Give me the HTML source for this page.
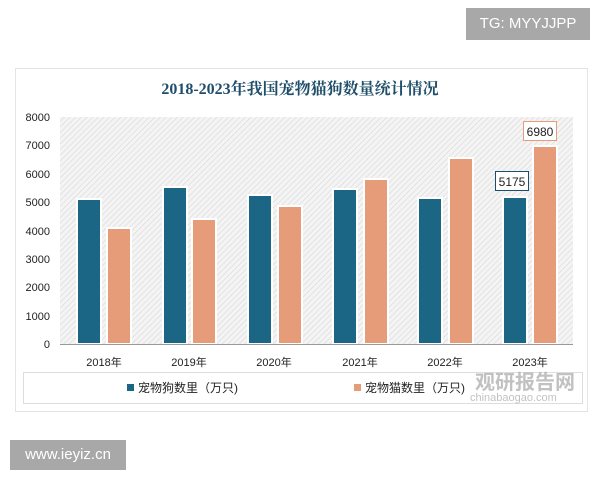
<!DOCTYPE html>
<html><head><meta charset="utf-8"><style>
body{margin:0;width:600px;height:480px;background:#fff;overflow:hidden;position:relative;font-family:"Liberation Sans","Noto Sans CJK SC",sans-serif}
</style></head><body>
<div style="position:absolute;left:466px;top:8px;width:124px;height:32px;background:#a8a8a8;color:#fff;font-size:15px;line-height:32px;text-align:center">TG: MYYJJPP</div>
<div style="position:absolute;left:10px;top:440px;width:116px;height:30px;background:#a8a8a8;color:#fff;font-size:15px;line-height:30px;text-align:center">www.ieyiz.cn</div>
<svg width="600" height="480" style="position:absolute;left:0;top:0">
<defs><pattern id="h" width="4" height="4" patternUnits="userSpaceOnUse" patternTransform="rotate(45)"><rect width="4" height="4" fill="#f4f4f4"/><line x1="0" y1="0" x2="0" y2="4" stroke="#d8d8d8" stroke-width="1.2"/></pattern></defs>
<rect x="15.5" y="68.5" width="572" height="343" fill="#fff" stroke="#e4e4e4"/>
<text x="300" y="94" text-anchor="middle" font-family="Liberation Serif,Noto Serif CJK SC,serif" font-weight="bold" font-size="16" fill="#1f4e6b">2018-2023年我国宠物猫狗数量统计情况</text>
<rect x="60" y="117" width="513" height="227" fill="url(#h)"/>
<g font-size="11" fill="#222" text-anchor="end">
<text x="50" y="121">8000</text><text x="50" y="149">7000</text><text x="50" y="178">6000</text><text x="50" y="206">5000</text><text x="50" y="235">4000</text><text x="50" y="263">3000</text><text x="50" y="291">2000</text><text x="50" y="320">1000</text><text x="50" y="348">0</text>
</g>
<g fill="#1b6585" stroke="#fff" stroke-width="2">
<rect x="77" y="199" width="24" height="145"/><rect x="163" y="187" width="24" height="157"/><rect x="248" y="195" width="24" height="149"/><rect x="333" y="189" width="24" height="155"/><rect x="418" y="198" width="24" height="146"/><rect x="503" y="197" width="24" height="147"/>
</g>
<g fill="#e69b79" stroke="#fff" stroke-width="2">
<rect x="107" y="228" width="24" height="116"/><rect x="192" y="219" width="24" height="125"/><rect x="278" y="206" width="24" height="138"/><rect x="364" y="179" width="24" height="165"/><rect x="449" y="158" width="24" height="186"/><rect x="533" y="146" width="24" height="198"/>
</g>
<line x1="60" y1="344.5" x2="573" y2="344.5" stroke="#999"/>
<rect x="495.5" y="171.5" width="33" height="19" fill="#fff" stroke="#1b4e6b"/><text x="512" y="186" text-anchor="middle" font-size="12" fill="#222">5175</text>
<rect x="523.5" y="121.5" width="33" height="19" fill="#fff" stroke="#e69b79"/><text x="540" y="136" text-anchor="middle" font-size="12" fill="#222">6980</text>
<g font-size="11" fill="#222" text-anchor="middle">
<text x="104" y="366">2018年</text><text x="189" y="366">2019年</text><text x="274" y="366">2020年</text><text x="360" y="366">2021年</text><text x="445" y="366">2022年</text><text x="530" y="366">2023年</text>
</g>
<rect x="23.5" y="372.5" width="559" height="31" fill="#fff" stroke="#ddd"/>
<rect x="127" y="384" width="7" height="7" fill="#1b6585"/><text x="138" y="392" font-size="12" fill="#222">宠物狗数里（万只)</text>
<rect x="354" y="384" width="7" height="7" fill="#e69b79"/><text x="365" y="392" font-size="12" fill="#222">宠物猫数里（万只)</text>
<text x="475" y="389" font-size="20" font-weight="bold" fill="#999" opacity="0.6">观研报告网</text>
<text x="470" y="401" font-size="11" fill="#999" opacity="0.6">chinabaogao.com</text>
</svg>
</body></html>
